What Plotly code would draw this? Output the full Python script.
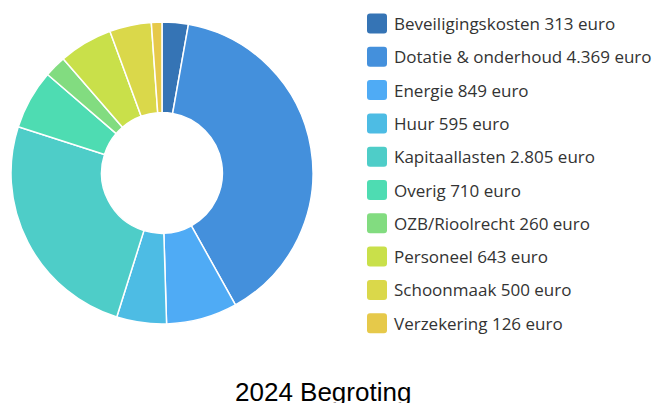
import plotly.graph_objects as go

# Budget 2024, cost categories in euro
categories = ["Beveiligingskosten", "Dotatie & onderhoud", "Energie", "Huur",
              "Kapitaallasten", "Overig", "OZB/Rioolrecht", "Personeel",
              "Schoonmaak", "Verzekering"]
values = [313, 4369, 849, 595, 2805, 710, 260, 643, 500, 126]
value_labels = ["313", "4.369", "849", "595", "2.805", "710", "260", "643", "500", "126"]
colors = ["#3574b5", "#4490dc", "#4fabf5", "#4dbce4", "#4ecdc8",
          "#4edcb2", "#82dc80", "#c9e04a", "#dad84a", "#e6c94a"]

W, H = 655, 403


def px(x):
    return x / W


def py(y):
    return 1 - y / H


fig = go.Figure(go.Pie(
    labels=categories,
    values=values,
    hole=0.40,
    sort=False,
    direction="clockwise",
    rotation=0,
    textinfo="none",
    hoverinfo="label+value",
    marker=dict(colors=colors, line=dict(color="white", width=1.5)),
    domain=dict(x=[px(11), px(313)], y=[py(324), py(22)]),
    showlegend=False,
))

# Legend: rounded colour swatches with category text
shapes = []
annotations = []
row0, step = 23.5, 33.3
sw, r = 20, 3
for i, (cat, lab, col) in enumerate(zip(categories, value_labels, colors)):
    cy = row0 + i * step
    x0, x1 = 367, 367 + sw
    y0, y1 = cy - sw / 2, cy + sw / 2
    path = (f"M {px(x0 + r)},{py(y0)} L {px(x1 - r)},{py(y0)} "
            f"Q {px(x1)},{py(y0)} {px(x1)},{py(y0 + r)} "
            f"L {px(x1)},{py(y1 - r)} Q {px(x1)},{py(y1)} {px(x1 - r)},{py(y1)} "
            f"L {px(x0 + r)},{py(y1)} Q {px(x0)},{py(y1)} {px(x0)},{py(y1 - r)} "
            f"L {px(x0)},{py(y0 + r)} Q {px(x0)},{py(y0)} {px(x0 + r)},{py(y0)} Z")
    shapes.append(dict(type="path", path=path, xref="paper", yref="paper",
                       fillcolor=col, line=dict(width=0)))
    annotations.append(dict(text=f"{cat} {lab} euro", x=px(392), y=py(cy),
                            xref="paper", yref="paper", xanchor="left",
                            yanchor="middle", showarrow=False,
                            font=dict(family="Open Sans", size=17, color="#333333")))

annotations.append(dict(text="2024 Begroting", x=px(323), y=py(392),
                        xref="paper", yref="paper", xanchor="center",
                        yanchor="middle", showarrow=False,
                        font=dict(family="Liberation Sans, Arial", size=26,
                                  color="#000000")))

fig.update_layout(
    width=W, height=H, autosize=False,
    margin=dict(l=0, r=0, t=0, b=0),
    paper_bgcolor="white", plot_bgcolor="white",
    shapes=shapes, annotations=annotations,
)

fig.write_html("out.html")
